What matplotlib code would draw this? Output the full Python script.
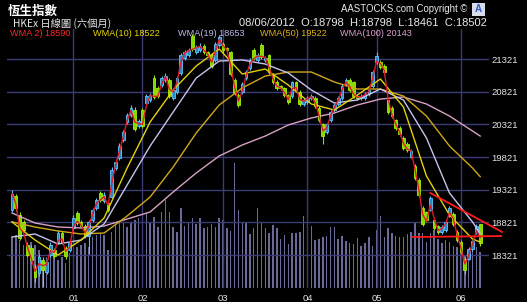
import numpy as np
import matplotlib
matplotlib.use("Agg")
import matplotlib.pyplot as plt
from matplotlib.patches import Rectangle

# daily HSI candles, 08/12/2011 .. 08/06/2012 (trading-day index 0..122)
opens = [19012, 19226, 18936, 18829, 18477, 18431, 18141, 18049, 18248, 18064,
         18324, 18401, 18523, 18660, 18431, 18401, 18737, 18966, 18829, 18767,
         18614, 18859, 19043, 19272, 19150, 19119, 19211, 19654, 19807, 20083,
         20358, 20465, 20541, 20297, 20541, 20648, 20694, 21030, 20878, 20923,
         21000, 21000, 20725, 20816, 21107, 21336, 21382, 21673, 21428, 21458,
         21520, 21428, 21382, 21306, 21535, 21550, 21489, 21428, 21000, 20770,
         20816, 21030, 21183, 21458, 21306, 21535, 21306, 21382, 21076, 20969,
         20908, 20878, 20770, 20755, 20969, 20816, 20633, 20663, 20725, 20725,
         20572, 20327, 20205, 20388, 20541, 20633, 20725, 20939, 21000, 20969,
         20755, 20725, 20725, 20786, 20908, 21275, 21275, 21214, 20694, 20572,
         20388, 20266, 20113, 20021, 19823, 19685, 19471, 19043, 18982, 19012,
         18859, 18767, 18676, 18706, 18920, 18951, 18676, 18523, 18263, 18263,
         18416, 18676, 18798]
closes = [19257, 19043, 18584, 18706, 18324, 18248, 17988, 18294, 18095, 18217,
          18477, 18309, 18660, 18523, 18309, 18507, 18890, 18813, 18767, 18614,
          18829, 19012, 19165, 19165, 19242, 19012, 19624, 19746, 19991, 20205,
          20465, 20572, 20251, 20373, 20297, 20755, 20770, 20740, 20755, 21030,
          21061, 20755, 20847, 21030, 21382, 21428, 21458, 21474, 21504, 21520,
          21428, 21382, 21214, 21550, 21657, 21458, 21458, 21092, 20801, 20618,
          20939, 21122, 21306, 21336, 21382, 21351, 21336, 21122, 20969, 20878,
          20878, 20770, 20663, 20969, 20847, 20633, 20694, 20725, 20755, 20602,
          20388, 20143, 20327, 20511, 20618, 20725, 20908, 21000, 20847, 20755,
          20725, 20755, 20786, 20847, 21122, 21367, 21199, 21122, 20511, 20449,
          20266, 20174, 19960, 19930, 19914, 19501, 19242, 18798, 18859, 19196,
          18737, 18676, 18752, 18829, 19043, 18798, 18553, 18370, 18095, 18416,
          18538, 18766, 18502]
highs = [19318, 19257, 18982, 18860, 18523, 18470, 18187, 18340, 18294, 18250,
         18523, 18430, 18700, 18690, 18460, 18540, 18930, 19000, 18860, 18800,
         18860, 19050, 19200, 19300, 19290, 19150, 19670, 19790, 20030, 20240,
         20500, 20620, 20580, 20410, 20570, 20790, 20800, 21070, 20910, 21060,
         21100, 21030, 20880, 21060, 21410, 21460, 21490, 21700, 21530, 21560,
         21550, 21450, 21410, 21580, 21690, 21580, 21510, 21450, 21030, 20800,
         20970, 21150, 21330, 21490, 21410, 21560, 21360, 21400, 21100, 21000,
         20930, 20900, 20790, 20990, 20990, 20840, 20720, 20750, 20780, 20750,
         20600, 20350, 20350, 20540, 20650, 20750, 20940, 21030, 21030, 20990,
         20780, 20780, 20810, 20870, 21150, 21428, 21300, 21240, 20720, 20600,
         20410, 20290, 20140, 20050, 19950, 19710, 19500, 19070, 19000, 19230,
         18880, 18790, 18780, 18860, 19080, 18980, 18700, 18550, 18290, 18440,
         18560, 18800, 18798]
lows = [18980, 19000, 18553, 18680, 18290, 18200, 17913, 18000, 17837, 18030,
        18290, 18280, 18490, 18490, 18270, 18370, 18700, 18780, 18740, 18580,
        18339, 18830, 19010, 19130, 19120, 18980, 19190, 19620, 19780, 20050,
        20330, 20440, 20220, 20270, 20270, 20620, 20660, 20710, 20720, 20900,
        20970, 20720, 20700, 20790, 21080, 21310, 21350, 21440, 21400, 21430,
        21400, 21350, 21180, 21280, 21510, 21420, 21430, 21060, 20770, 20580,
        20790, 21000, 21160, 21300, 21280, 21320, 21280, 21090, 20940, 20850,
        20850, 20740, 20630, 20730, 20820, 20600, 20600, 20640, 20700, 20570,
        20360, 20021, 20170, 20360, 20510, 20610, 20700, 20910, 20820, 20730,
        20700, 20700, 20700, 20760, 20880, 21250, 21170, 21090, 20480, 20420,
        20230, 20140, 19930, 19900, 19800, 19470, 19210, 18760, 18830, 18990,
        18710, 18640, 18650, 18680, 18900, 18770, 18520, 18340, 18030, 18240,
        18390, 18650, 18461]
turnover = [51, 53, 48, 43, 45, 46, 43, 38, 28, 31,
            33, 38, 28, 31, 25, 35, 38, 41, 43, 45,
            41, 51, 53, 55, 53, 38, 56, 63, 66, 65,
            61, 66, 68, 70, 66, 75, 66, 71, 61, 76,
            88, 76, 61, 56, 80, 62, 66, 70, 64, 70,
            60, 61, 64, 61, 70, 68, 60, 57, 125, 78,
            65, 66, 54, 60, 80, 65, 60, 55, 63, 60,
            49, 53, 44, 55, 55, 56, 72, 46, 62, 48,
            49, 51, 52, 61, 61, 49, 52, 47, 45, 44,
            50, 42, 45, 51, 42, 58, 72, 51, 60, 55,
            52, 51, 51, 54, 56, 65, 55, 55, 46, 55,
            58, 49, 45, 48, 46, 42, 41, 36, 33, 38,
            38, 41, 36]

# moving averages at every 6th session (plus the last one)
ma_idx = [0, 6, 12, 18, 24, 30, 36, 42, 48, 54, 60, 66, 72, 78, 84, 90, 96, 102, 108, 114, 120, 122]
wma10 = [18829, 18553, 18324, 18553, 18890, 19654, 20358, 20847, 21214, 21474, 21092,
         21168, 20923, 20633, 20541, 20770, 21015, 20587, 19532, 18936, 18569, 18522]
wma19 = [18599, 18645, 18492, 18553, 18798, 19394, 19991, 20511, 21030, 21290, 21306,
         21244, 21107, 20847, 20648, 20694, 20862, 20694, 20113, 19272, 18829, 18653]
wma50 = [18829, 18752, 18691, 18645, 18660, 18920, 19211, 19670, 20189, 20618, 20878,
         21061, 21122, 21122, 20969, 20862, 20862, 20755, 20449, 19991, 19654, 19522]
wma100 = [18966, 18813, 18752, 18737, 18767, 18874, 18982, 19287, 19578, 19838, 20006,
          20143, 20312, 20419, 20495, 20618, 20709, 20740, 20633, 20449, 20220, 20143]

month_idx = [16, 34, 55, 77, 95, 117]
month_labels = ["01", "02", "03", "04", "05", "06"]
price_ticks = [18321, 18821, 19321, 19821, 20321, 20821, 21321]

# hand drawn trend lines (session index, price)
trend_down = ([109, 127.7], [19272, 18676])
trend_flat = ([104.5, 127.5], [18599, 18614])

o = np.array(opens); c = np.array(closes)
h = np.array(highs); l = np.array(lows)
n = len(c)
x = np.arange(n)
w2 = c.astype(float).copy()
w2[1:] = (2 * c[1:] + c[:-1]) / 3.0

NAVY = "#03034e"
GRID = "#3b3b76"
CJK = ["Noto Sans CJK TC", "DejaVu Sans"]
LAT = ["Liberation Sans", "DejaVu Sans"]

W, H = 527, 302
fig = plt.figure(figsize=(W / 100, H / 100), dpi=100, facecolor="black")
rect = [7 / W, 14 / H, 482 / W, 259 / H]

axv = fig.add_axes(rect, zorder=0)
axv.set_facecolor(NAVY)
axv.bar(x, turnover, width=0.38, color="#6a6a98", linewidth=0)
axv.set_xlim(-1.3, 124.3)
axv.set_ylim(0, 259)
axv.axis("off")
axv.patch.set_visible(True)

ax = fig.add_axes(rect, zorder=1)
ax.patch.set_visible(False)
ax.set_xlim(-1.3, 124.3)
ax.set_ylim(17819, 21780)
for s in ax.spines.values():
    s.set_visible(False)
ax.set_axisbelow(True)
ax.grid(True, color=GRID, lw=1)

up = c >= o
ax.vlines(x[up], l[up], h[up], color="#59c3f5", lw=0.8, zorder=3)
ax.vlines(x[~up], l[~up], h[~up], color="#8ee010", lw=0.8, zorder=3)
body = np.where(np.abs(c - o) < 10, 10, c - o)
ax.bar(x[up], body[up], bottom=o[up], width=0.7, color="#2e86c8",
       edgecolor="#5ccaff", lw=0.6, zorder=4)
ax.bar(x[~up], body[~up], bottom=o[~up], width=0.7, color="#80dc00",
       edgecolor="#a6f000", lw=0.6, zorder=4)

ax.plot(ma_idx, wma100, color="#d8a0c4", lw=1, zorder=5)
ax.plot(ma_idx, wma50, color="#d0a818", lw=1, zorder=5)
ax.plot(ma_idx, wma19, color="#c4c4ec", lw=1, zorder=5)
ax.plot(ma_idx, wma10, color="#e2d20a", lw=1, zorder=5)
ax.plot(x, w2, color="#e01828", lw=1, zorder=6)

ax.plot(*trend_down, color="#ff1a1a", lw=1.3, clip_on=False, zorder=7)
ax.plot(*trend_flat, color="#ff1a1a", lw=1.3, clip_on=False, zorder=7)

ax.set_yticks(price_ticks)
ax.set_yticklabels([str(p) for p in price_ticks])
ax.yaxis.tick_right()
ax.set_xticks(month_idx)
ax.set_xticklabels(month_labels)
ax.tick_params(length=0, labelcolor="#e4e4e4", labelsize=6.8)
ax.tick_params(axis="y", pad=2)
ax.tick_params(axis="x", pad=4)
for t in ax.get_xticklabels() + ax.get_yticklabels():
    t.set_family(LAT)

def ftxt(px, py, s, **kw):
    fig.text(px / W, 1 - py / H, s, va="center", **kw)

ftxt(8, 11.5, "恆生指數", color="white", fontsize=9, fontweight="bold", family=CJK)
ftxt(13, 23.5, "HKEx 日線圖 (六個月)", color="#e8e8e8", fontsize=7.4, family=CJK)
ftxt(487, 22.5, f"08/06/2012  O:{opens[-1]}  H:{highs[-1]}  L:{lows[-1]}  C:{closes[-1]}",
     color="#e8e8e8", fontsize=8.0, ha="right", family=LAT)
ftxt(467, 9.5, "AASTOCKS.com Copyright ©", color="#e8e8e8", fontsize=6.9,
     ha="right", family=LAT)
fig.patches.append(Rectangle((472 / W, 1 - 16 / H), 13 / W, 13 / H,
                             transform=fig.transFigure, facecolor="#d8dce8",
                             edgecolor="none"))
ftxt(478.5, 9.5, "A", color="#2a5cc8", fontsize=7, ha="center",
     fontweight="bold", family=LAT)

legend = [(10, f"WMA 2) {w2[-1]:.0f}", "#ff2a2a"),
          (93, f"WMA(10) {wma10[-1]}", "#e6d800"),
          (178, f"WMA(19) {wma19[-1]}", "#b8b8e8"),
          (260, f"WMA(50) {wma50[-1]}", "#e0b010"),
          (340, f"WMA(100) {wma100[-1]}", "#e0a0cc")]
for px, s, col in legend:
    ftxt(px, 33.5, s, color=col, fontsize=6.6, family=LAT)

fig.savefig("out.png", dpi=100, facecolor="black")
